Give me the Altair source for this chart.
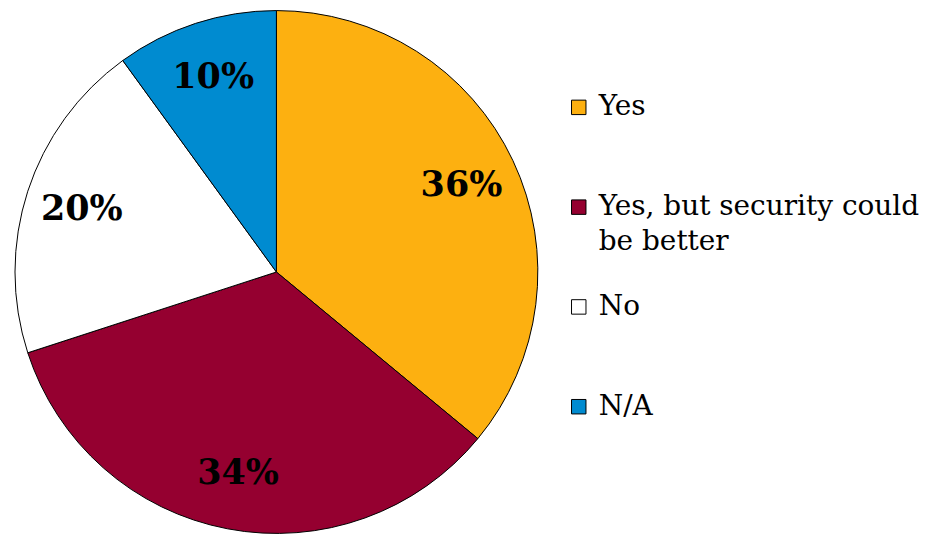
import altair as alt
import pandas as pd

categories = ["Yes", "Yes, but security could be better", "No", "N/A"]
values = [36, 34, 20, 10]
labels = ["36%", "34%", "20%", "10%"]
colors = ["#FDB010", "#950030", "#FFFFFF", "#008BD0"]

df = pd.DataFrame({
    "category": categories,
    "value": values,
    "label": labels,
    "order": list(range(len(categories))),
})

FONT = "DejaVu Serif"
R = 262
CX, CY = 262, 262

color = alt.Color(
    "category:N",
    sort=categories,
    scale=alt.Scale(domain=categories, range=colors),
    legend=alt.Legend(
        title=None,
        orient="none",
        legendX=551,
        legendY=83,
        symbolType="square",
        symbolSize=210,
        symbolStrokeColor="black",
        symbolStrokeWidth=1,
        labelFont=FONT,
        labelFontSize=28,
        labelColor="black",
        labelOffset=6,
        labelLimit=400,
        rowPadding=37,
        labelExpr="datum.label == 'Yes, but security could be better' ? ['Yes, but security could', 'be better'] : [datum.label, '']",
    ),
)

base = alt.Chart(df).encode(
    theta=alt.Theta("value:Q", stack=True),
    order=alt.Order("order:Q"),
)

pie = base.mark_arc(outerRadius=R, stroke="black", strokeWidth=1).encode(
    color=color,
    x=alt.value(CX),
    y=alt.value(CY),
)

text = base.mark_text(radius=205, font=FONT, fontSize=35, fontWeight="bold", color="black").encode(
    text="label:N",
    x=alt.value(CX),
    y=alt.value(CY),
)

chart = (
    alt.layer(pie, text)
    .properties(width=524, height=516, padding={"left": 5, "top": 0, "right": 0, "bottom": 0})
    .configure(style={"guide-label": {"lineHeight": 35}}, view={"stroke": None})
)

chart.save("out.html", embed_options={"renderer": "svg", "actions": False})
